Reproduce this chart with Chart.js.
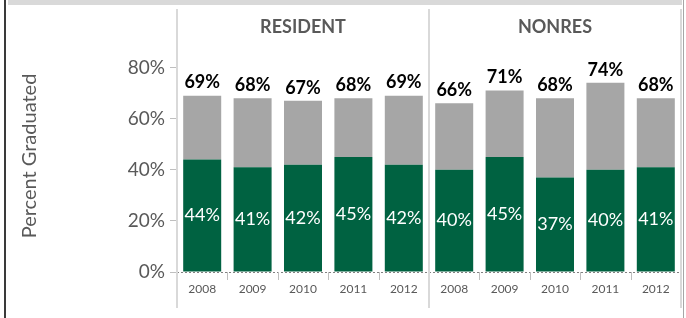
<!DOCTYPE html>
<html>
<head>
<meta charset="utf-8">
<script src="https://cdn.jsdelivr.net/npm/chart.js@4"></script>
<style>
  html, body { margin: 0; padding: 0; background: #fff; }
</style>
</head>
<body>
<canvas id="chart" width="686" height="318"></canvas>
<script>
const groups = ['RESIDENT', 'NONRES'];
const years = ['2008', '2009', '2010', '2011', '2012'];
const residentLower = [44, 41, 42, 45, 42];
const residentTotal = [69, 68, 67, 68, 69];
const nonresLower = [40, 45, 37, 40, 41];
const nonresTotal = [66, 71, 68, 74, 68];
const yTicks = [0, 20, 40, 60, 80];

const labels = [...years, ...years];
const lower = [...residentLower, ...nonresLower];
const total = [...residentTotal, ...nonresTotal];
// grey part sits on top of the green one, so it is total minus lower
const upper = total.map((t, i) => t - lower[i]);

Chart.defaults.font.family = 'Lato';

const decor = {
    id: 'decor',
    beforeDraw(chart) {
        const ctx = chart.ctx;
        ctx.save();
        // outer frame
        ctx.fillStyle = '#d9d9d9';
        ctx.fillRect(8, 0, 674, 5);
        ctx.fillStyle = '#3a3a3a';
        ctx.fillRect(4, 0, 2, 318);
        ctx.fillStyle = '#a6a6a6';
        ctx.fillRect(683, 0, 1, 318);
        ctx.restore();
    },
    beforeDatasetsDraw(chart) {
        const ctx = chart.ctx;
        const x = chart.scales.x;
        const area = chart.chartArea;
        const half = (x.getPixelForValue(1) - x.getPixelForValue(0)) / 2;
        ctx.save();
        // dashed baseline
        ctx.strokeStyle = '#808080';
        ctx.lineWidth = 1;
        ctx.setLineDash([2, 2]);
        ctx.beginPath();
        ctx.moveTo(area.left, area.bottom + 0.5);
        ctx.lineTo(area.right, area.bottom + 0.5);
        ctx.stroke();
        ctx.setLineDash([]);
        // boundaries between categories
        for (let i = 0; i <= labels.length; i++) {
            const bx = x.getPixelForValue(i) - half;
            if (i % years.length === 0) {
                ctx.strokeStyle = '#d9d9d9';
                ctx.lineWidth = 2;
                ctx.beginPath();
                ctx.moveTo(bx, 9);
                ctx.lineTo(bx, 308);
                ctx.stroke();
            } else {
                ctx.strokeStyle = '#bfbfbf';
                ctx.lineWidth = 1;
                ctx.beginPath();
                ctx.moveTo(Math.round(bx) + 0.5, area.bottom);
                ctx.lineTo(Math.round(bx) + 0.5, area.bottom + 8);
                ctx.stroke();
            }
        }
        ctx.restore();
    },
    afterDatasetsDraw(chart) {
        const ctx = chart.ctx;
        const x = chart.scales.x;
        const half = (x.getPixelForValue(1) - x.getPixelForValue(0)) / 2;
        ctx.save();
        ctx.textAlign = 'center';
        ctx.textBaseline = 'middle';

        chart.getDatasetMeta(0).data.forEach((bar, i) => {
            ctx.fillStyle = '#ffffff';
            ctx.font = '18px Lato';
            ctx.fillText(lower[i] + '%', bar.x, (bar.y + bar.base) / 2);
        });
        chart.getDatasetMeta(1).data.forEach((bar, i) => {
            ctx.fillStyle = '#000000';
            ctx.font = 'bold 18px Lato';
            ctx.fillText(total[i] + '%', bar.x, bar.y - 13);
        });

        // group headers
        ctx.fillStyle = '#595959';
        ctx.font = 'bold 18px Lato';
        groups.forEach((g, gi) => {
            const a = x.getPixelForValue(gi * years.length) - half;
            const b = x.getPixelForValue((gi + 1) * years.length - 1) + half;
            ctx.fillText(g, (a + b) / 2, 27);
        });

        // y title
        ctx.translate(30, 156);
        ctx.rotate(-Math.PI / 2);
        ctx.font = '20px Lato';
        ctx.fillText('Percent Graduated', 0, 0);
        ctx.restore();
    }
};

new Chart(document.getElementById('chart'), {
    type: 'bar',
    data: {
        labels: labels,
        datasets: [{
            label: 'Lower',
            data: lower,
            backgroundColor: '#006241',
            barPercentage: 0.754,
            categoryPercentage: 1
        }, {
            label: 'Total',
            data: upper,
            backgroundColor: '#a6a6a6',
            barPercentage: 0.754,
            categoryPercentage: 1
        }]
    },
    options: {
        responsive: false,
        animation: false,
        devicePixelRatio: 1,
        layout: { padding: { left: 8, right: 5, top: 12, bottom: 0 } },
        plugins: {
            legend: { display: false },
            tooltip: { enabled: false }
        },
        scales: {
            x: {
                stacked: true,
                grid: { display: false, drawTicks: false },
                border: { display: false },
                ticks: {
                    color: '#595959',
                    font: { size: 12 },
                    padding: 10,
                    maxRotation: 0,
                    autoSkip: false
                },
                afterFit(scale) { scale.height = 46; }
            },
            y: {
                stacked: true,
                min: 0,
                max: 100,
                grid: {
                    drawOnChartArea: false,
                    color: '#bfbfbf',
                    tickLength: 7
                },
                border: { display: false },
                ticks: {
                    color: '#595959',
                    font: { size: 19 },
                    padding: 5,
                    callback: v => v + '%'
                },
                afterBuildTicks(scale) {
                    scale.ticks = yTicks.map(v => ({ value: v }));
                },
                afterFit(scale) { scale.width = 169; }
            }
        }
    },
    plugins: [decor]
});
</script>
</body>
</html>
